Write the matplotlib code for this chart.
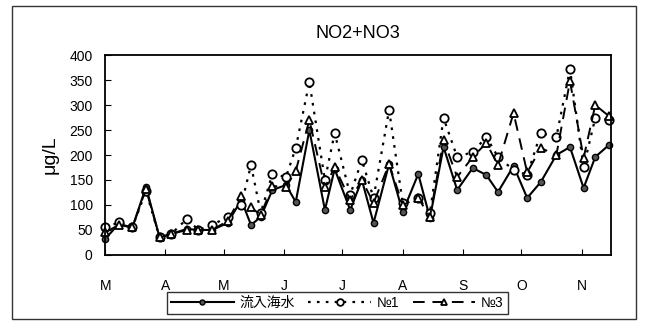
import pandas as pd
import matplotlib.pyplot as plt
import matplotlib.dates as mdates
from matplotlib.patches import Rectangle

plt.rcParams['font.family'] = ['Liberation Sans', 'Noto Sans CJK JP', 'DejaVu Sans']

# sampling dates (month-day) and concentrations (ug/L)
dates = ["03-01", "03-08", "03-15", "03-22", "03-29", "04-04", "04-12", "04-18",
         "04-25", "05-03", "05-10", "05-15", "05-20", "05-26", "06-02", "06-07",
         "06-14", "06-22", "06-27", "07-05", "07-11", "07-17", "07-25", "08-01",
         "08-09", "08-15", "08-22", "08-29", "09-06", "09-13", "09-19", "09-27",
         "10-04", "10-11", "10-19", "10-26", "11-02", "11-08", "11-15"]
inflow = [32, 62, 55, 136, 35, 42, 52, 50, 50, 64, 110, 60, 76, 130, 140, 106,
          250, 90, 172, 90, 150, 64, 182, 86, 162, 74, 216, 130, 174, 160, 126,
          178, 114, 146, 200, 216, 134, 196, 220]
no1 = [55, 65, 55, 128, 35, 42, 72, 50, 60, 76, 100, 180, 84, 162, 156, 214,
       346, 150, 244, 120, 190, 114, 290, 104, 114, 84, 274, 196, 206, 236, 196,
       170, 160, 244, 236, 372, 176, 274, 270]
no3 = [45, 60, 55, 132, 35, 42, 50, 50, 50, 68, 118, 95, 80, 138, 136, 168,
       270, 135, 176, 110, 150, 104, 182, 100, 114, 76, 230, 156, 196, 224, 180,
       284, 165, 214, 200, 348, 194, 300, 278]
months = ["M", "A", "M", "J", "J", "A", "S", "O", "N"]

x = pd.to_datetime(["2001-" + d for d in dates])

fig = plt.figure(figsize=(6.45, 3.26), dpi=100)
fig.patches.append(Rectangle((0.019, 0.02), 0.967, 0.963, transform=fig.transFigure,
                             fill=False, edgecolor="#333333", linewidth=1.0))
ax = fig.add_axes([0.163, 0.218, 0.784, 0.613])

ax.plot(x, inflow, color="black", linewidth=1.5, marker="o", markersize=4.5,
        markerfacecolor="#555555", markeredgecolor="black", label="流入海水", clip_on=False)
ax.plot(x, no1, color="black", linewidth=1.6, linestyle=(0, (1.2, 2.8)), marker="o",
        markersize=6, markerfacecolor="white", markeredgecolor="black",
        markeredgewidth=1.3, label="№1", clip_on=False)
ax.plot(x, no3, color="black", linewidth=1.4, linestyle=(0, (6, 4)), marker="^",
        markersize=5.5, markerfacecolor="white", markeredgecolor="black",
        markeredgewidth=1.3, label="№3", clip_on=False)

ax.set_xlim(pd.Timestamp("2001-03-01"), pd.Timestamp("2001-11-16"))
ax.set_ylim(0, 400)
ax.set_yticks(range(0, 401, 50))
ax.xaxis.set_major_locator(mdates.MonthLocator())
ax.set_xticks(ax.get_xticks())
ax.set_xticklabels(months)

ax.tick_params(axis="x", direction="in", length=4, pad=17, labelsize=10)
ax.tick_params(axis="y", direction="in", length=4, pad=9, labelsize=10)
for s in ax.spines.values():
    s.set_linewidth(1.3)

ax.set_title("NO2+NO3", fontsize=13, pad=12)
ax.set_ylabel("μg/L", fontsize=14, labelpad=8)

leg = fig.legend(loc="center", bbox_to_anchor=(0.523, 0.07), ncol=3, fontsize=10,
                 handlelength=4.5, columnspacing=1.0, handletextpad=0.4,
                 markerscale=0.8, fancybox=False, edgecolor="black", borderpad=0.3)
leg.get_frame().set_linewidth(1.0)

plt.savefig("out.png", dpi=100)
